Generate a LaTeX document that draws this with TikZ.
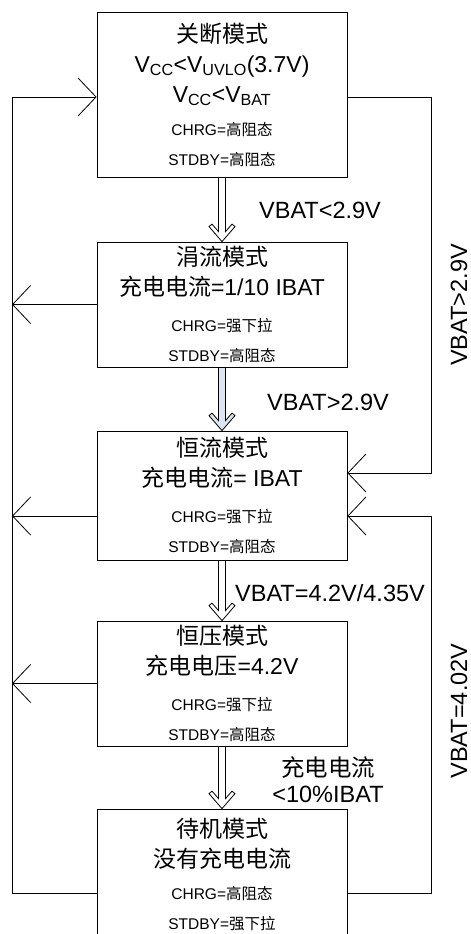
\documentclass[tikz,border=0pt]{standalone}
\usepackage{fontspec}
\setmainfont{Liberation Sans}
\newfontfamily\cjk{Noto Sans CJK SC}
\usetikzlibrary{arrows.meta,calc}
\newcommand\zh[1]{{\cjk #1}}
\newcommand\pin[1]{{\fontsize{15.5}{18}\selectfont #1}}
\definecolor{paleblue}{RGB}{220,230,242}

\begin{document}
\begin{tikzpicture}[x=1pt, y=-1pt, line width=0.8pt,
    >={Straight Barb[length=18pt,width=38pt]},
    mode/.style={draw, minimum width=250, inner sep=0pt, align=center,
      font=\fontsize{23}{30}\selectfont},
    lab/.style={font=\fontsize{23.5}{26}\selectfont, align=center, inner sep=0pt},
    fat/.style={to path={($(\tikztostart)+(-3.5pt,0)$) -- ($(\tikztotarget)+(-3.5pt,10pt)$)
      -- ($(\tikztotarget)+(-10pt,17.5pt)$) -- ($(\tikztotarget)+(-13pt,15pt)$)
      -- (\tikztotarget) -- ($(\tikztotarget)+(13pt,15pt)$)
      -- ($(\tikztotarget)+(10pt,17.5pt)$) -- ($(\tikztotarget)+(3.5pt,10pt)$)
      -- ($(\tikztostart)+(3.5pt,0)$) -- cycle}}]
  \useasboundingbox (0,0) rectangle (471,934);

  % 各模式
  \node[mode, minimum height=165] (off) at (222,94.5)
    {\zh{关断模式}\\V\textsubscript{CC}<V\textsubscript{UVLO}(3.7V)\\V\textsubscript{CC}<V\textsubscript{BAT}\\[3pt]
     \pin{CHRG=\zh{高阻态}}\\\pin{STDBY=\zh{高阻态}}};
  \node[mode, minimum height=125] (tc) at (222,304.5)
    {\zh{涓流模式}\\\zh{充电电流}=1/10 IBAT\\[6pt]\pin{CHRG=\zh{强下拉}}\\\pin{STDBY=\zh{高阻态}}};
  \node[mode, minimum height=129] (cc) at (222,495.5)
    {\zh{恒流模式}\\\zh{充电电流}= IBAT\\[6pt]\pin{CHRG=\zh{强下拉}}\\\pin{STDBY=\zh{高阻态}}};
  \node[mode, minimum height=125] (cv) at (222,683.5)
    {\zh{恒压模式}\\\zh{充电电压}=4.2V\\[6pt]\pin{CHRG=\zh{强下拉}}\\\pin{STDBY=\zh{高阻态}}};
  \node[mode, minimum height=131] (sb) at (222,874.5)
    {\zh{待机模式}\\\zh{没有充电电流}\\[2pt]\pin{CHRG=\zh{高阻态}}\\\pin{STDBY=\zh{强下拉}}};

  % 模式之间的空心箭头
  \draw[fill=white] (off.south) to[fat] (tc.north);
  \draw[fill=paleblue] (tc.south) to[fat] (cc.north);
  \draw[fill=white] (cc.south) to[fat] (cv.north);
  \draw[fill=white] (cv.south) to[fat] (sb.north);

  % 条件
  \node[lab] (l1) at (320,210) {VBAT<2.9V};
  \node[lab] (l2) at (328,402) {VBAT>2.9V};
  \node[lab] (l3) at (330,593) {VBAT=4.2V/4.35V};
  \node[lab] (l4) at (328,780) {\zh{充电电流}\\<10\%IBAT};
  \node[lab, rotate=90] (l5) at (459,305) {VBAT>2.9V};
  \node[lab, rotate=90] (l6) at (459,711) {VBAT=4.02V};

  % 左右两条回线
  \coordinate (lbus) at (12,0);
  \coordinate (rbus) at (431,0);
  \coordinate (off-in) at ([yshift=-2.5pt]off.west);
  \coordinate (off-out) at ([yshift=-2.5pt]off.east);
  \coordinate (cc-in1) at ([yshift=22.5pt]cc.east);
  \coordinate (cc-in2) at ([yshift=-20.5pt]cc.east);
  \coordinate (cc-out) at ([yshift=-20.5pt]cc.west);
  \coordinate (sb-l) at ([yshift=-18.5pt]sb.west);
  \coordinate (sb-r) at ([yshift=-18.5pt]sb.east);

  \draw[->] (sb-l) -| (lbus |- off-in) -- (off-in);
  \draw[->] (off-out) -| (rbus |- cc-in1) -- (cc-in1);
  \draw[->] (sb-r) -| (rbus |- cc-in2) -- (cc-in2);

  % 回到关断模式
  \draw[->] (tc.west) -- (lbus |- tc.west);
  \draw[->] (cc-out) -- (lbus |- cc-out);
  \draw[->] (cv.west) -- (lbus |- cv.west);
\end{tikzpicture}
\end{document}
